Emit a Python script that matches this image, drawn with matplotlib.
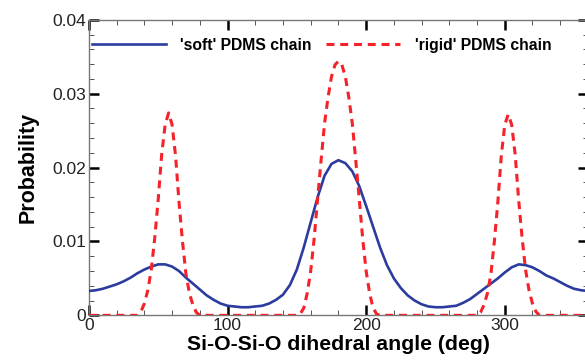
import matplotlib
matplotlib.use("Agg")
import matplotlib.pyplot as plt
from matplotlib.ticker import MultipleLocator

# 'soft' chain: probability sampled every 5 deg, 0..360
soft_angle = list(range(0, 365, 5))
soft_prob = [
    0.0033, 0.0034, 0.0036, 0.0039, 0.0042, 0.0046, 0.0051, 0.0057, 0.0062, 0.0066,
    0.0069, 0.0069, 0.0066, 0.0060, 0.0051, 0.0043, 0.0035, 0.0027, 0.0021, 0.0016,
    0.0013, 0.0012, 0.0011, 0.0011, 0.0012, 0.0013, 0.0016, 0.0021, 0.0028, 0.0041,
    0.0062, 0.0092, 0.0126, 0.0160, 0.0189, 0.0205, 0.0210, 0.0206, 0.0195, 0.0175,
    0.0148, 0.0120, 0.0092, 0.0068, 0.0050, 0.0037, 0.0027, 0.0020, 0.0015, 0.0012,
    0.0011, 0.0011, 0.0012, 0.0013, 0.0017, 0.0022, 0.0029, 0.0036, 0.0043, 0.0050,
    0.0058, 0.0065, 0.0069, 0.0068, 0.0065, 0.0060, 0.0054, 0.0050, 0.0045, 0.0040,
    0.0036, 0.0034, 0.0033,
]

# 'rigid' chain: three narrow peaks (gauche+, trans, gauche-)
rigid_angle = [
    0,
    35, 37.5, 40, 42.5, 45, 47.5, 50, 52.5, 55, 57.5, 60, 62.5, 65, 67.5, 70, 72.5, 75, 77.5, 80,
    150, 152.5, 155, 157.5, 160, 162.5, 165, 167.5, 170, 172.5, 175, 177.5, 180,
    182.5, 185, 187.5, 190, 192.5, 195, 197.5, 200, 202.5, 205, 207.5, 210,
    280, 282.5, 285, 287.5, 290, 292.5, 295, 297.5, 300, 302.5, 305, 307.5, 310, 312.5, 315,
    317.5, 320, 322.5, 325,
    360,
]
rigid_prob = [
    0.0,
    0.0, 0.0005, 0.0016, 0.0034, 0.0062, 0.0105, 0.0157, 0.0218, 0.0258, 0.0274,
    0.0258, 0.0216, 0.0153, 0.0100, 0.0056, 0.0030, 0.0014, 0.0004, 0.0,
    0.0, 0.0002, 0.0010, 0.0030, 0.0060, 0.0104, 0.0158, 0.0210, 0.0260, 0.0295,
    0.0323, 0.0339, 0.0344, 0.0339, 0.0323, 0.0295, 0.0260, 0.0210, 0.0158, 0.0104,
    0.0060, 0.0030, 0.0010, 0.0002, 0.0,
    0.0, 0.0004, 0.0014, 0.0030, 0.0056, 0.0100, 0.0153, 0.0216, 0.0258, 0.0272,
    0.0258, 0.0218, 0.0157, 0.0105, 0.0062, 0.0034, 0.0016, 0.0005, 0.0,
    0.0,
]

x_ticks = [0, 100, 200, 300]
y_ticks = [0, 0.01, 0.02, 0.03, 0.04]
y_ticklabels = ["0", "0.01", "0.02", "0.03", "0.04"]

plt.rcParams["font.family"] = ["Liberation Sans", "DejaVu Sans"]

fig = plt.figure(figsize=(5.85, 3.6), dpi=100)
ax = fig.add_axes([0.152, 0.124, 0.853, 0.821])

ax.plot(soft_angle, soft_prob, color="#2B3C9E", lw=1.9, label="'soft' PDMS chain", zorder=3)
ax.plot(rigid_angle, rigid_prob, color="#F5222A", lw=2.2, dashes=(2.6, 1.9),
        label="'rigid' PDMS chain", zorder=4)

ax.set_xlim(0, 360)
ax.set_ylim(0, 0.04)
ax.set_xticks(x_ticks)
ax.set_yticks(y_ticks)
ax.set_yticklabels(y_ticklabels)
ax.xaxis.set_minor_locator(MultipleLocator(20))
ax.yaxis.set_minor_locator(MultipleLocator(0.002))

ax.tick_params(which="both", direction="in", top=True, right=True, labelsize=12.5,
               colors="#222222")
ax.tick_params(which="major", length=7, width=1.8, color="black", pad=2)
ax.tick_params(which="minor", length=3.6, width=0.7, color="#555555")
for s in ax.spines.values():
    s.set_color("#777777")
    s.set_linewidth(1.0)

ax.set_xlabel("Si-O-Si-O dihedral angle (deg)", fontsize=15.3, fontweight="bold", labelpad=1)
ax.set_ylabel("Probability", fontsize=15.5, fontweight="bold", labelpad=10)

ax.legend(loc="upper left", bbox_to_anchor=(-0.01, 0.965), ncol=2, frameon=False,
          handlelength=4.7, handletextpad=0.95, columnspacing=0.9,
          prop={"weight": "bold", "size": 11.3}, borderaxespad=0.1)

fig.savefig("out.png", dpi=100)
